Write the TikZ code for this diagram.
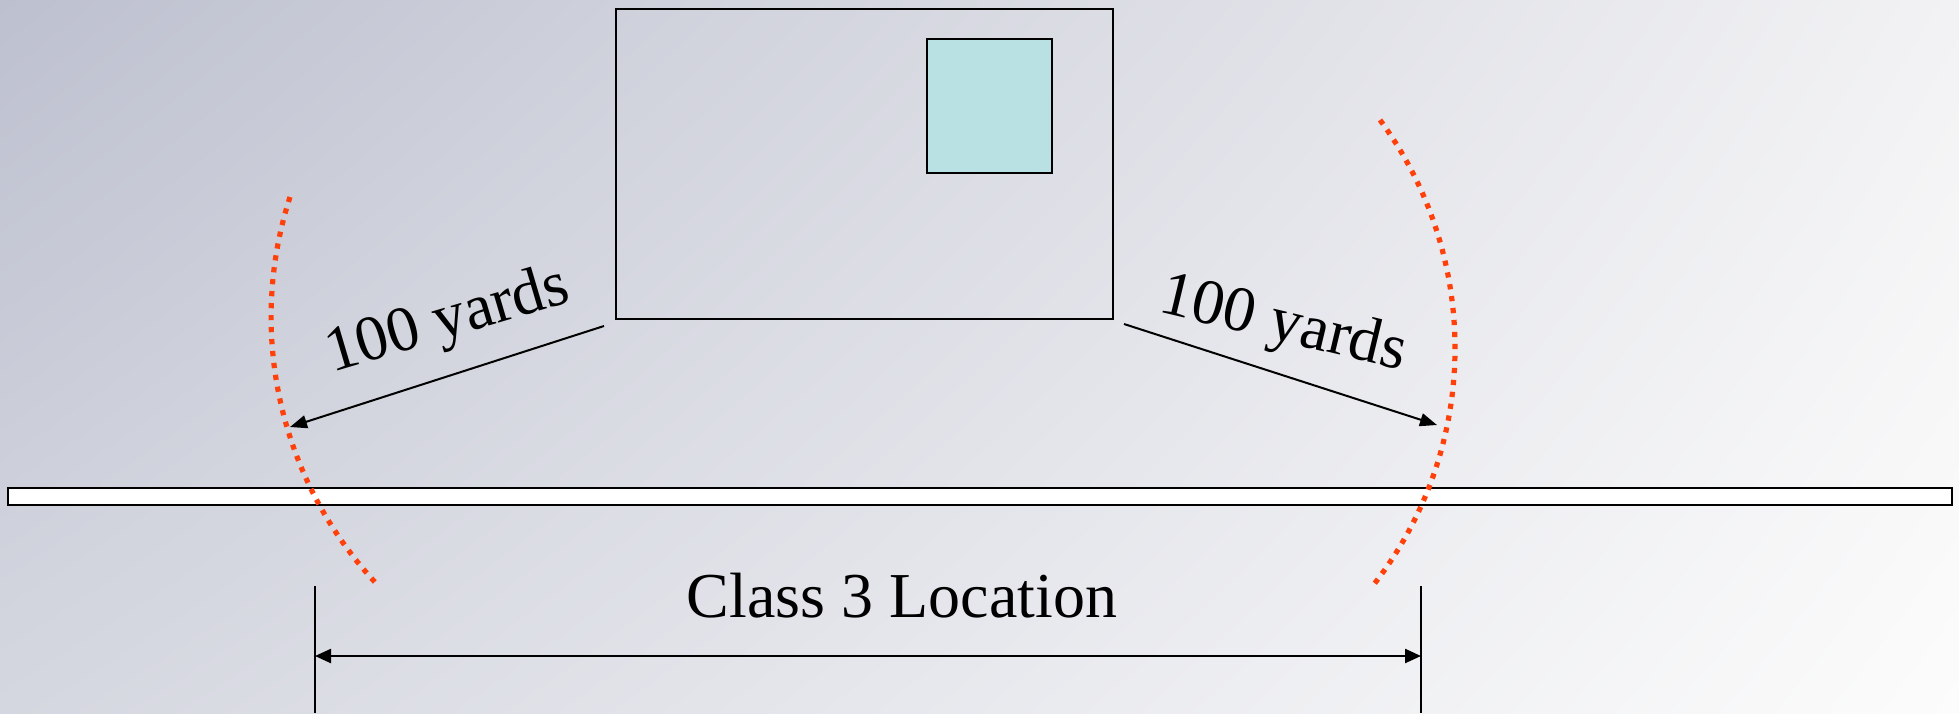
\documentclass[tikz,border=0pt]{standalone}
\usepackage{fontspec}
\setmainfont{Liberation Serif}
\usetikzlibrary{arrows.meta,shadings}
\definecolor{bgTL}{RGB}{189,192,207}
\definecolor{bgTR}{RGB}{242,242,244}
\definecolor{bgBL}{RGB}{213,215,224}
\definecolor{bgBR}{RGB}{252,252,252}
\definecolor{poolcyan}{RGB}{185,224,227}
\definecolor{radiusred}{RGB}{255,64,10}
\tikzset{
  boxline/.style={draw=black, line width=1pt},
  arr/.style={line width=1pt, -{Triangle[length=8.5pt,width=6.5pt]}},
  dimarr/.style={line width=1.2pt, {Triangle[length=8pt,width=7pt]}-{Triangle[length=8pt,width=7pt]}},
  tick/.style={line width=0.8pt},
  redarc/.style={draw=radiusred, line width=2.6pt, dash pattern=on 2.6pt off 3.4pt},
  lbl/.style={font=\fontsize{32}{38}\selectfont, inner sep=0pt}
}
\begin{document}
\begin{tikzpicture}[x=0.5pt,y=0.5pt]
\shade[upper left=bgTL, upper right=bgTR, lower left=bgBL, lower right=bgBR] (0,0) rectangle (1959,-713);
\useasboundingbox (0,0) rectangle (1959,-713);
% building and pool
\node[boxline, minimum width=248.5pt, minimum height=155pt, inner sep=0pt] (bldg) at (864.5,-164) {};
\node[boxline, fill=poolcyan, minimum width=62.5pt, minimum height=67pt, inner sep=0pt] (pool) at (989.5,-106) {};
% road
\node[boxline, fill=white, minimum width=972pt, minimum height=8.5pt, inner sep=0pt] (road) at (980,-496.5) {};
% red radius arcs
\draw[redarc] (290,-197) arc[start angle=162.1, end angle=222.8, radius=195.2pt];
\draw[redarc] (1380,-120) arc[start angle=36.4, end angle=-38.4, radius=192.25pt];
% radius arrows
\coordinate (lstart) at (604,-326);
\coordinate (ltip) at (290,-427);
\coordinate (rstart) at (1124,-324);
\coordinate (rtip) at (1437,-425);
\draw[arr] (lstart) -- (ltip);
\draw[arr] (rstart) -- (rtip);
\node[lbl, rotate=16.5] (lyards) at (448,-322) {100 yards};
\node[lbl, rotate=-13.5] (ryards) at (1283,-326) {100 yards};
% class 3 location dimension
\coordinate (dl1) at (315,-586);
\coordinate (dl2) at (315,-713);
\coordinate (dr1) at (1421,-586);
\coordinate (dr2) at (1421,-713);
\coordinate (al) at (315,-656);
\coordinate (ar) at (1421,-656);
\draw[tick] (dl1) -- (dl2);
\draw[tick] (dr1) -- (dr2);
\draw[dimarr] (al) -- (ar);
\node[lbl, anchor=base] (cls) at (902,-617) {Class 3 Location};
\end{tikzpicture}
\end{document}
